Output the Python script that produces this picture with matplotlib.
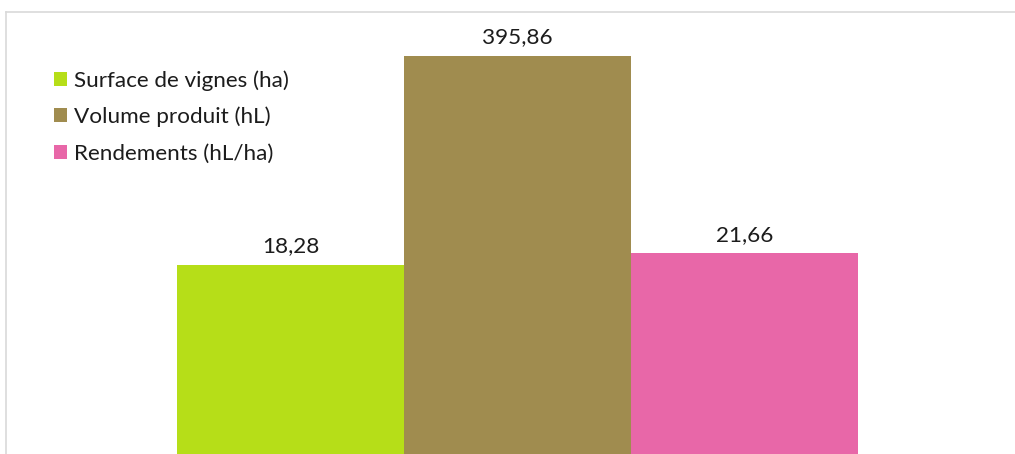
import matplotlib
matplotlib.use("Agg")
import matplotlib.pyplot as plt
from matplotlib.lines import Line2D

series = ["Surface de vignes (ha)", "Volume produit (hL)", "Rendements (hL/ha)"]
values = [18.28, 395.86, 21.66]
colors = ["#B6DE18", "#A08C4F", "#E867A8"]

W, H = 1015, 454
plt.rcParams["font.family"] = ["Lato", "DejaVu Sans"]
plt.rcParams["text.color"] = "#1c1c1c"

fig = plt.figure(figsize=(W / 100, H / 100), dpi=100)

# chart frame (only top and left edges are inside the image)
fig.add_artist(Line2D([6 / W, 6 / W], [0, 1 - 12 / H], transform=fig.transFigure,
                      color="#d9d9d9", lw=1.2))
fig.add_artist(Line2D([6 / W, 1], [1 - 12 / H, 1 - 12 / H], transform=fig.transFigure,
                      color="#d9d9d9", lw=1.2))

# plot area on a log scale, 1 at the bottom and 1000 at the top
y_one, y_thousand = 462.3, -7.0
ax = fig.add_axes([177 / W, (H - y_one) / H, (858 - 177) / W, (y_one - y_thousand) / H])
ax.set_yscale("log")

for i, (name, v, c) in enumerate(zip(series, values, colors)):
    bars = ax.bar(i, v, width=1.0, color=c, label=name, linewidth=0)
    ax.bar_label(bars, labels=[f"{v:.2f}".replace(".", ",")], padding=6.2, fontsize=16.2)

ax.set_xlim(-0.5, 2.5)
ax.set_ylim(1, 1000)
ax.axis("off")

fig.legend(loc="upper left", bbox_to_anchor=(54 / W, 1 - 70 / H), frameon=False,
           fontsize=16.2, handlelength=0.58, handleheight=0.58, handletextpad=0.3,
           labelspacing=0.72, borderpad=0, borderaxespad=0)

fig.savefig("out.png", dpi=100)
